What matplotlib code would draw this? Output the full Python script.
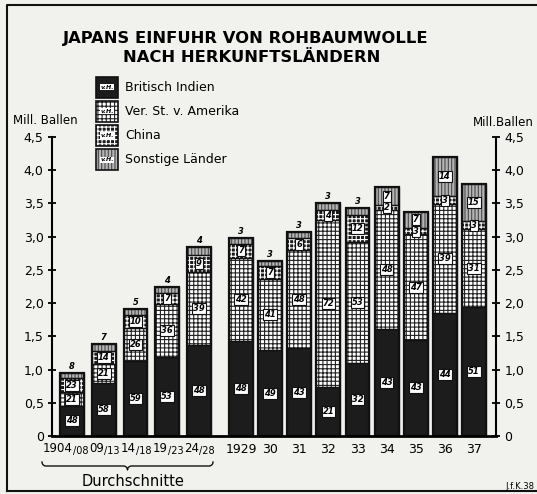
import matplotlib.pyplot as plt
import numpy as np
from matplotlib.patches import Rectangle

# Data (Mill. Ballen total, shares in v.H.)
periods = ['1904/08', '09/13', '14/18', '19/23', '24/28',
           '1929', '30', '31', '32', '33', '34', '35', '36', '37']
totals = [0.95, 1.38, 1.91, 2.24, 2.84,
          2.98, 2.63, 3.07, 3.50, 3.43, 3.74, 3.37, 4.20, 3.80]
india = [48, 58, 59, 53, 48, 48, 49, 43, 21, 32, 43, 43, 44, 51]
usa = [21, 21, 26, 36, 39, 42, 41, 48, 72, 53, 48, 47, 39, 31]
china = [23, 14, 10, 7, 9, 7, 7, 6, 4, 12, 2, 3, 3, 3]
other = [8, 7, 5, 4, 4, 3, 3, 3, 3, 3, 7, 7, 14, 15]
legend_names = ['Britisch Indien', 'Ver. St. v. Amerika', 'China', 'Sonstige Länder']
yticks = [0, 0.5, 1.0, 1.5, 2.0, 2.5, 3.0, 3.5, 4.0, 4.5]

BG = '#f1f1ee'
DARK = '#1c1c1c'
plt.rcParams['hatch.linewidth'] = 0.8

W, H = 537, 494
fig = plt.figure(figsize=(W / 100, H / 100), dpi=100, facecolor=BG)


def fx(px):
    return px / W


def fy(py):
    return 1 - py / H


ax = fig.add_axes([fx(52), fy(436), fx(496) - fx(52), fy(137) - fy(436)])
ax.set_facecolor('none')

# bar positions: five averages, then single years
x = np.concatenate([np.arange(5) * 1.09, 5.81 + np.arange(9)])
bw = 0.82

tot = np.array(totals)
shares = np.array([india, usa, china, other], dtype=float)
shares = shares / shares.sum(axis=0)
heights = shares * tot
bottoms = np.vstack([np.zeros(len(x)), np.cumsum(heights, axis=0)[:-1]])

# Britisch Indien
ax.bar(x, heights[0], bottom=bottoms[0], width=bw, color=DARK, lw=0)
# Ver. St. v. Amerika
ax.bar(x, heights[1], bottom=bottoms[1], width=bw, facecolor='white',
       edgecolor='#222222', hatch='++++', lw=0)
# China
ax.bar(x, heights[2], bottom=bottoms[2], width=bw, facecolor=DARK,
       edgecolor='white', hatch='++++', lw=0)
# Sonstige
ax.bar(x, heights[3], bottom=bottoms[3], width=bw, facecolor='#b4b4b4',
       edgecolor='#4a4a4a', hatch='|||||', lw=0)
for k in range(4):
    ax.bar(x, heights[k], bottom=bottoms[k], width=bw, fill=False,
           edgecolor='#111111', lw=0.9)
ax.bar(x, tot, width=bw, fill=False, edgecolor='#111111', lw=1.6)

box = dict(boxstyle='square,pad=0.12', fc='white', ec='#111111', lw=0.8)
for i in range(len(x)):
    vals = [india[i], usa[i], china[i], other[i]]
    for k in range(4):
        h = heights[k][i]
        if k == 3 and h < 0.15:
            ax.text(x[i], tot[i] + 0.03, str(vals[k]), ha='center', va='bottom',
                    fontsize=6, fontstyle='italic', fontweight='bold')
            continue
        ax.text(x[i], bottoms[k][i] + h / 2, str(vals[k]), ha='center', va='center',
                fontsize=6, fontstyle='italic', fontweight='bold', bbox=box)

ax.set_xlim(-0.687, 14.57)
ax.set_ylim(0, 4.5)
ax.set_xticks([])
ax.set_yticks(yticks)
ax.set_yticklabels(['0' if v == 0 else f'{v:.1f}'.replace('.', ',') for v in yticks])
ax.tick_params(axis='y', direction='inout', length=6, width=1.3, labelsize=9,
               pad=3, left=True, right=True, labelleft=True, labelright=True)
for side in ['left', 'right']:
    ax.spines[side].set_linewidth(1.5)
ax.spines['bottom'].set_linewidth(2)
ax.spines['top'].set_visible(False)

# period labels
for xi, lab in zip(x, periods):
    if '/' in lab:
        a, b = lab.split('/')
        ax.text(xi + 0.02, -0.042, a, transform=ax.get_xaxis_transform(),
                ha='right', va='center', fontsize=8.5)
        ax.text(xi + 0.02, -0.05, '/' + b, transform=ax.get_xaxis_transform(),
                ha='left', va='center', fontsize=7)
    else:
        ax.text(xi, -0.045, lab, transform=ax.get_xaxis_transform(), ha='center',
                va='center', fontsize=9)

# brace under the averages
def brace(x0, x1, y, h=4):
    xm = (x0 + x1) / 2
    t = np.linspace(0, np.pi / 2, 12)
    pts = []
    pts += list(zip(x0 + h - h * np.cos(t), y - h + h * np.sin(t)))
    pts += list(zip(xm - h + h * np.sin(t), y + h - h * np.cos(t)))
    pts += list(zip(xm + h - h * np.sin(t[::-1]), y + h - h * np.cos(t[::-1])))
    pts += list(zip(x1 - h + h * np.cos(t[::-1]), y - h + h * np.sin(t[::-1])))
    px, py = zip(*pts)
    fig.add_artist(plt.Line2D([fx(p) for p in px], [fy(p) for p in py],
                              color='#111111', lw=1.0))


brace(42, 213, 466)
fig.text(fx(133), fy(481), 'Durchschnitte', ha='center', va='center', fontsize=10.5)

# title
fig.text(fx(246), fy(38), 'JAPANS EINFUHR VON ROHBAUMWOLLE', ha='center',
         va='center', fontsize=11.8, fontweight='bold')
fig.text(fx(252), fy(58), 'NACH HERKUNFTSLÄNDERN', ha='center', va='center',
         fontsize=11.8, fontweight='bold')

# legend
styles = [dict(facecolor=DARK, edgecolor=DARK),
          dict(facecolor='white', edgecolor='#222222', hatch='++++'),
          dict(facecolor=DARK, edgecolor='white', hatch='++++'),
          dict(facecolor='#b4b4b4', edgecolor='#4a4a4a', hatch='|||||')]
for j, (name, st) in enumerate(zip(legend_names, styles)):
    yc = 87 + j * 24.3
    fig.add_artist(Rectangle((fx(96), fy(yc + 10.5)), fx(22), fy(0) - fy(21),
                             transform=fig.transFigure, lw=0, **st))
    fig.add_artist(Rectangle((fx(96), fy(yc + 10.5)), fx(22), fy(0) - fy(21),
                             transform=fig.transFigure, fill=False,
                             edgecolor='#111111', lw=1.2))
    fig.text(fx(107), fy(yc), 'v.H.', ha='center', va='center', fontsize=4.5,
             fontstyle='italic', fontweight='bold',
             bbox=dict(boxstyle='square,pad=0.1', fc='white', ec='none'))
    fig.text(fx(125), fy(yc), name, ha='left', va='center', fontsize=9)

fig.text(fx(45), fy(120), 'Mill. Ballen', ha='center', va='center', fontsize=8.5)
fig.text(fx(503), fy(123), 'Mill.Ballen', ha='center', va='center', fontsize=8.5)
fig.text(fx(534), fy(486), 'J.f.K.38', ha='right', va='center', fontsize=6)

# frame
fig.add_artist(plt.Line2D([fx(7), fx(7), fx(537)], [fy(491), fy(5), fy(5)],
                          color='#111111', lw=1.5))
fig.add_artist(plt.Line2D([fx(7), fx(537)], [fy(491), fy(491)],
                          color='#111111', lw=1.5))

fig.savefig('out.png', dpi=100, facecolor=BG)
